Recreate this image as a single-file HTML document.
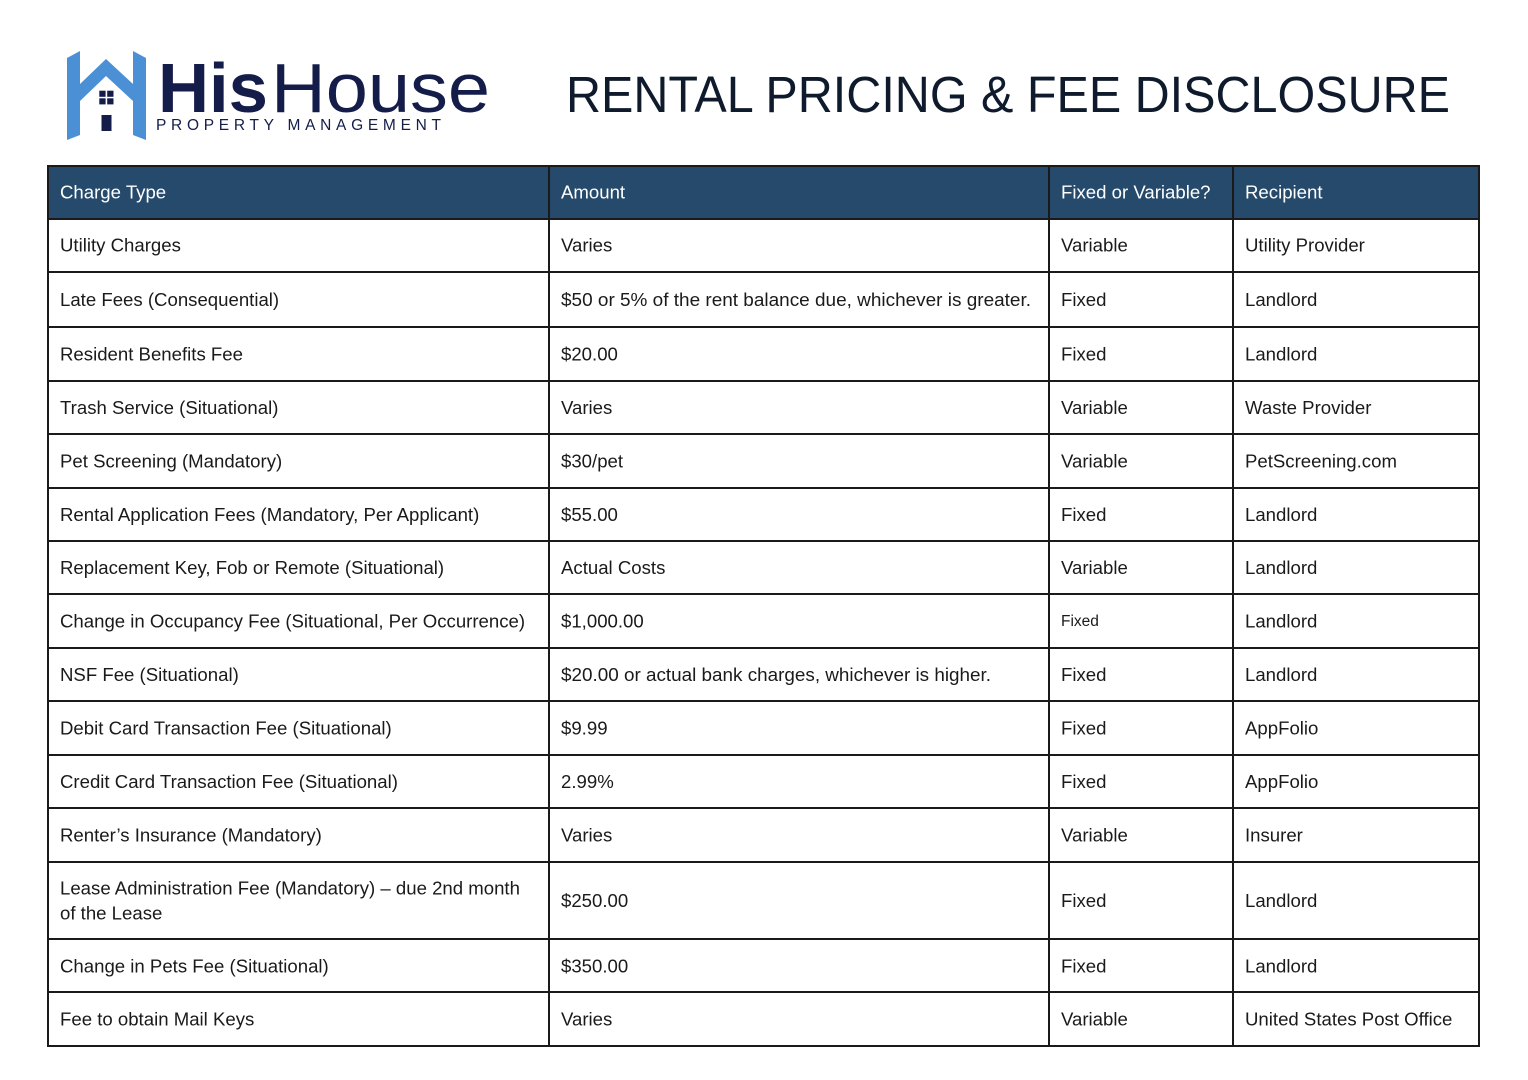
<!DOCTYPE html>
<html>
<head>
<meta charset="utf-8">
<style>
html,body{margin:0;padding:0;background:#fff;}
svg{display:block;}
text{font-family:"Liberation Sans",Arial,sans-serif;}
</style>
</head>
<body>
<svg width="1528" height="1080" viewBox="0 0 1528 1080" xmlns="http://www.w3.org/2000/svg">
<rect width="1528" height="1080" fill="#ffffff"/>
<!-- Logo icon -->
<polygon points="67,58 80,51 80,84 106,59 133,84 133,51 146,58 146,140 133,135 133,101 106,76 80,101 80,135 67,140" fill="#4b8fd5"/>
<g fill="#141c4a">
<rect x="99.3" y="90.7" width="6.3" height="6.1"/>
<rect x="107.2" y="90.7" width="6.3" height="6.1"/>
<rect x="99.3" y="98.3" width="6.3" height="6.1"/>
<rect x="107.2" y="98.3" width="6.3" height="6.1"/>
<rect x="101.5" y="115" width="10" height="16"/>
</g>
<text x="158" y="112" font-size="70" font-weight="bold" fill="#141c4a" textLength="110" lengthAdjust="spacingAndGlyphs">His</text>
<text x="271" y="112" font-size="70" fill="#141c4a" textLength="219" lengthAdjust="spacingAndGlyphs">House</text>
<text x="156" y="130" font-size="15.5" fill="#141c4a" textLength="285" lengthAdjust="spacing">PROPERTY MANAGEMENT</text>
<!-- Title -->
<text x="566" y="112" font-size="51" fill="#0f1b2d" textLength="884" lengthAdjust="spacingAndGlyphs">RENTAL PRICING &amp; FEE DISCLOSURE</text>

<!-- Table header -->
<rect x="48" y="166" width="1431" height="53" fill="#264a6b"/>
<g font-size="18.6" fill="#ffffff">
<text x="60" y="198.5">Charge Type</text>
<text x="561" y="198.5">Amount</text>
<text x="1061" y="198.5">Fixed or Variable?</text>
<text x="1245" y="198.5">Recipient</text>
</g>

<!-- Table lines -->
<g stroke="#1a1a1a" stroke-width="2" fill="none">
<rect x="48" y="166" width="1431" height="880"/>
<line x1="549" y1="166" x2="549" y2="1046"/>
<line x1="1049" y1="166" x2="1049" y2="1046"/>
<line x1="1233" y1="166" x2="1233" y2="1046"/>
<line x1="48" y1="219" x2="1479" y2="219"/>
<line x1="48" y1="272" x2="1479" y2="272"/>
<line x1="48" y1="327" x2="1479" y2="327"/>
<line x1="48" y1="381" x2="1479" y2="381"/>
<line x1="48" y1="434" x2="1479" y2="434"/>
<line x1="48" y1="488" x2="1479" y2="488"/>
<line x1="48" y1="541" x2="1479" y2="541"/>
<line x1="48" y1="594" x2="1479" y2="594"/>
<line x1="48" y1="648" x2="1479" y2="648"/>
<line x1="48" y1="701" x2="1479" y2="701"/>
<line x1="48" y1="755" x2="1479" y2="755"/>
<line x1="48" y1="808" x2="1479" y2="808"/>
<line x1="48" y1="862" x2="1479" y2="862"/>
<line x1="48" y1="939" x2="1479" y2="939"/>
<line x1="48" y1="992" x2="1479" y2="992"/>
</g>

<!-- Table body -->
<g font-size="18.6" fill="#1a1a1a">
<text x="60" y="251.5">Utility Charges</text>
<text x="561" y="251.5">Varies</text>
<text x="1061" y="251.5">Variable</text>
<text x="1245" y="251.5">Utility Provider</text>

<text x="60" y="306">Late Fees (Consequential)</text>
<text x="561" y="306" textLength="470" lengthAdjust="spacingAndGlyphs">$50 or 5% of the rent balance due, whichever is greater.</text>
<text x="1061" y="306">Fixed</text>
<text x="1245" y="306">Landlord</text>

<text x="60" y="360.5">Resident Benefits Fee</text>
<text x="561" y="360.5">$20.00</text>
<text x="1061" y="360.5">Fixed</text>
<text x="1245" y="360.5">Landlord</text>

<text x="60" y="414">Trash Service (Situational)</text>
<text x="561" y="414">Varies</text>
<text x="1061" y="414">Variable</text>
<text x="1245" y="414">Waste Provider</text>

<text x="60" y="467.5">Pet Screening (Mandatory)</text>
<text x="561" y="467.5">$30/pet</text>
<text x="1061" y="467.5">Variable</text>
<text x="1245" y="467.5">PetScreening.com</text>

<text x="60" y="521">Rental Application Fees (Mandatory, Per Applicant)</text>
<text x="561" y="521">$55.00</text>
<text x="1061" y="521">Fixed</text>
<text x="1245" y="521">Landlord</text>

<text x="60" y="574">Replacement Key, Fob or Remote (Situational)</text>
<text x="561" y="574">Actual Costs</text>
<text x="1061" y="574">Variable</text>
<text x="1245" y="574">Landlord</text>

<text x="60" y="627.5">Change in Occupancy Fee (Situational, Per Occurrence)</text>
<text x="561" y="627.5">$1,000.00</text>
<text x="1061" y="626" font-size="15.5">Fixed</text>
<text x="1245" y="627.5">Landlord</text>

<text x="60" y="681">NSF Fee (Situational)</text>
<text x="561" y="681" textLength="430" lengthAdjust="spacingAndGlyphs">$20.00 or actual bank charges, whichever is higher.</text>
<text x="1061" y="681">Fixed</text>
<text x="1245" y="681">Landlord</text>

<text x="60" y="734.5">Debit Card Transaction Fee (Situational)</text>
<text x="561" y="734.5">$9.99</text>
<text x="1061" y="734.5">Fixed</text>
<text x="1245" y="734.5">AppFolio</text>

<text x="60" y="788">Credit Card Transaction Fee (Situational)</text>
<text x="561" y="788">2.99%</text>
<text x="1061" y="788">Fixed</text>
<text x="1245" y="788">AppFolio</text>

<text x="60" y="841.5">Renter’s Insurance (Mandatory)</text>
<text x="561" y="841.5">Varies</text>
<text x="1061" y="841.5">Variable</text>
<text x="1245" y="841.5">Insurer</text>

<text x="60" y="894.5">Lease Administration Fee (Mandatory) – due 2nd month</text>
<text x="60" y="919.5">of the Lease</text>
<text x="561" y="907">$250.00</text>
<text x="1061" y="907">Fixed</text>
<text x="1245" y="907">Landlord</text>

<text x="60" y="972.5">Change in Pets Fee (Situational)</text>
<text x="561" y="972.5">$350.00</text>
<text x="1061" y="972.5">Fixed</text>
<text x="1245" y="972.5">Landlord</text>

<text x="60" y="1025.5">Fee to obtain Mail Keys</text>
<text x="561" y="1025.5">Varies</text>
<text x="1061" y="1025.5">Variable</text>
<text x="1245" y="1025.5">United States Post Office</text>
</g>
</svg>
</body>
</html>
